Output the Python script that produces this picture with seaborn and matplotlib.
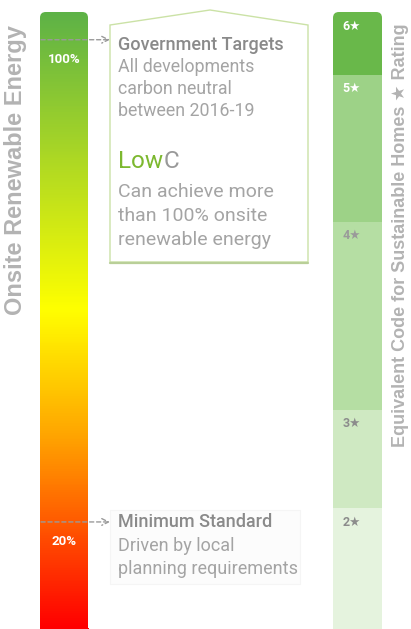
import matplotlib
matplotlib.use("Agg")
import matplotlib.pyplot as plt
import seaborn as sns
import numpy as np
from matplotlib.colors import LinearSegmentedColormap
from matplotlib.patches import FancyBboxPatch, Polygon, Rectangle

# data
energy_top = 104.6           # top of the renewable energy bar (%)
targets = [100, 20]          # marked levels (%)
target_labels = ["100%", "20%"]
star_levels = ["6\u2605", "5\u2605", "4\u2605", "3\u2605", "2\u2605"]
star_tops = [104.6, 94.2, 69.8, 38.6, 22.3]   # top of each code level band (%)
star_colors = ["#69b84a", "#9dd287", "#b5dea3", "#cfe9c2", "#e5f3de"]
star_label_colors = ["white", "white", "#9a9a9a", "#8c8c8c", "#8c8c8c"]

grad_pos = [2.4, 33.6, 55.2, 104.6]
grad_cols = ["#ff0000", "#ffa200", "#ffff00", "#5db247"]

W, H = 411, 629
sns.set_theme(style="white")
plt.rcParams['font.family'] = ['Roboto', 'DejaVu Sans']

fig = plt.figure(figsize=(W / 100, H / 100), dpi=100)

# y mapping: axes from 0% (below the figure) up to energy_top at y=12px
y_top_px, y_zero_px = 12, 642.5
px_per_pct = (y_zero_px - y_top_px) / energy_top


def bar_axes(x0, x1):
    ax = fig.add_axes([x0 / W, (H - y_zero_px) / H, (x1 - x0) / W,
                       (y_zero_px - y_top_px) / H])
    ax.set_ylim(0, energy_top)
    ax.axis("off")
    return ax


# left gradient bar
ax_l = bar_axes(40, 88)
cmap = LinearSegmentedColormap.from_list(
    "energy", [((p - grad_pos[0]) / (grad_pos[-1] - grad_pos[0]), c)
               for p, c in zip(grad_pos, grad_cols)])
ramp = np.linspace(grad_pos[0], grad_pos[-1], 500)[:, None]
img = ax_l.imshow(ramp, extent=(0, 1, grad_pos[0], grad_pos[-1]), origin="lower",
                  aspect="auto", cmap=cmap, vmin=grad_pos[0], vmax=grad_pos[-1])
clip_l = FancyBboxPatch((0, -10), 1, energy_top + 10,
                        boxstyle="round,pad=0,rounding_size=0.12",
                        mutation_aspect=48 / px_per_pct, transform=ax_l.transData,
                        facecolor="none", edgecolor="none")
ax_l.add_patch(clip_l)
img.set_clip_path(clip_l)
ax_l.imshow(ramp[:1], extent=(0, 1, 0, grad_pos[0]), aspect="auto",
            cmap=cmap, vmin=grad_pos[0], vmax=grad_pos[-1])
ax_l.set_xlim(0, 1)
ax_l.set_ylim(0, energy_top)
for t, lab in zip(targets, target_labels):
    ax_l.annotate(lab, (0.5, t), xytext=(0, -20), textcoords="offset pixels",
                  ha="center", va="center", color="white", fontsize=9.5,
                  fontweight="bold")

# right stacked code-level bar
ax_r = bar_axes(333, 382)
for top, col in zip(star_tops, star_colors):
    sns.barplot(x=["code"], y=[top], color=col, width=1, saturation=1,
                ax=ax_r, edgecolor="none")
ax_r.set_xlim(-0.5, 0.5)
ax_r.set_ylim(0, energy_top)
ax_r.axis("off")
clip_r = FancyBboxPatch((-0.5, -10), 1, energy_top + 10,
                        boxstyle="round,pad=0,rounding_size=0.12",
                        mutation_aspect=49 / px_per_pct, transform=ax_r.transData,
                        facecolor="none", edgecolor="none")
ax_r.add_patch(clip_r)
for p in ax_r.patches[:-1]:
    p.set_clip_path(clip_r)
for top, lab, col in zip(star_tops, star_levels, star_label_colors):
    ax_r.annotate(lab, (-0.5, top), xytext=(19, -14), textcoords="offset pixels",
                  ha="center", va="center", color=col, fontsize=9,
                  fontweight="bold", family=["Roboto", "DejaVu Sans"])

# overlay for notes
ax_bg = fig.add_axes([0, 0, 1, 1], zorder=3)
ax_bg.set_xlim(0, W)
ax_bg.set_ylim(H, 0)
ax_bg.patch.set_alpha(0)
ax_bg.axis("off")

ax_bg.add_patch(Polygon([(110, 262), (110, 25), (210, 10), (308, 25), (308, 262)],
                        closed=True, facecolor="white", edgecolor="#cbe2a6", lw=1))
ax_bg.plot([110, 308], [262.5, 262.5], color="#b9cf98", lw=1.6)
ax_bg.add_patch(Rectangle((110, 510), 190, 74, facecolor="#fcfcfc",
                          edgecolor="#f5f5f5", lw=0.8))

for t in targets:
    ax_bg.annotate("", xy=(110, t), xycoords=(ax_bg.transData, ax_l.transData),
                   xytext=(41, t), textcoords=(ax_bg.transData, ax_l.transData),
                   arrowprops=dict(arrowstyle="->", linestyle=(0, (3, 2)),
                                   color="#9a9a9a", lw=1, shrinkA=0, shrinkB=0))

head_c, body_c = "#8a8a8a", "#a4a4a4"
ax_bg.text(118, 45, "Government Targets", color=head_c, fontsize=13, fontweight="medium",
           va="center")
for y, s in zip([67, 89, 111], ["All developments", "carbon neutral", "between 2016-19"]):
    ax_bg.text(118, y, s, color=body_c, fontsize=12.8, va="center")
low = ax_bg.text(118, 162, "Low", color="#7cb82f", fontsize=17.5, va="center")
ax_bg.annotate("C", xycoords=low, xy=(1, 0.5), va="center", color="#999999",
               fontsize=17.5)
for y, s in zip([192, 216, 240], ["Can achieve more", "than 100% onsite", "renewable energy"]):
    ax_bg.text(118, y, s, color=body_c, fontsize=14, va="center")

ax_bg.text(118, 522, "Minimum Standard", color=head_c, fontsize=13, fontweight="medium",
           va="center")
for y, s in zip([546, 569], ["Driven by local", "planning requirements"]):
    ax_bg.text(118, y, s, color=body_c, fontsize=13, va="center")

ax_bg.text(16, 170, "Onsite Renewable Energy", rotation=90, ha="center", va="center",
           color="#b3b3b3", fontsize=17, fontweight="bold",
           family=["Liberation Sans", "DejaVu Sans"])
ax_bg.text(400, 235, "Equivalent Code for Sustainable Homes \u2605 Rating", rotation=90,
           ha="center", va="center", color="#b3b3b3", fontsize=13, fontweight="bold",
           family=["Liberation Sans", "DejaVu Sans"])

fig.savefig("out.png", dpi=100)
